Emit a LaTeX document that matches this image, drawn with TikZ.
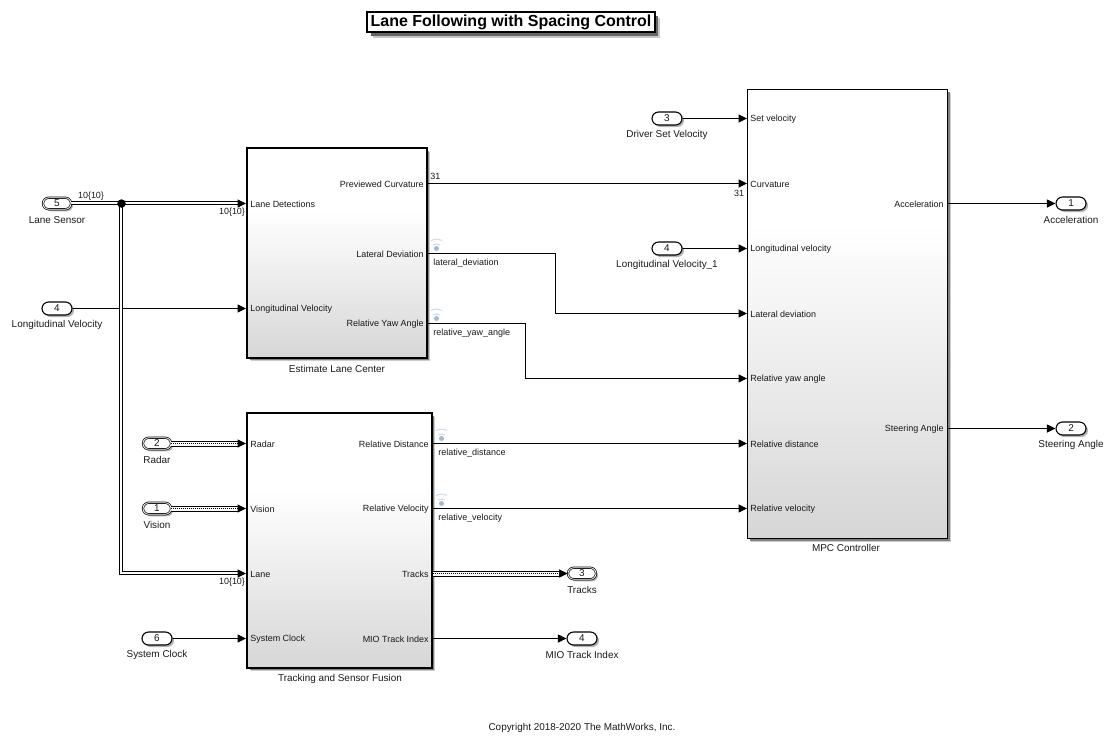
\documentclass[tikz,border=0pt]{standalone}
\usepackage{fontspec}
\setmainfont{Liberation Sans}
\usetikzlibrary{arrows.meta,shapes.misc,shadows}

\pgfdeclareverticalshading{blockfade}{100bp}{color(0bp)=(black!16); color(25bp)=(black!16); color(60bp)=(white); color(100bp)=(white)}

\tikzset{
lbl/.style={font=\fontsize{5.65pt}{7pt}\selectfont, inner sep=0pt, text=black!90, xshift=-0.01cm, yshift=-0.01cm},
tinylbl/.style={lbl, font=\fontsize{5.1pt}{6pt}\selectfont},
simblock/.style={draw, line width=0.04cm, shading=blockfade, drop shadow={shadow xshift=0.07cm, shadow yshift=-0.07cm, fill=black!20, opacity=1}, drop shadow={shadow xshift=0.05cm, shadow yshift=-0.05cm, fill=black!50, opacity=1}},
port/.style={rounded rectangle, draw, line width=0.022cm, fill=white, minimum width=0.6cm, minimum height=0.26cm, inner sep=0pt, lbl, xshift=0cm, yshift=0.01cm, drop shadow={shadow xshift=0.04cm, shadow yshift=-0.04cm, fill=black!30, opacity=1}},
busport/.style={port, double, double distance=0.016cm, line width=0.014cm, minimum width=0.56cm, minimum height=0.23cm},
sig/.style={line width=0.02cm, -{Triangle[length=0.17cm, width=0.16cm]}},
bus/.style={line width=0.02cm, double, double distance=0.04cm},
widebus/.style={line width=0.02cm, double, double distance=0.08cm},
dotwire/.style={line width=0.02cm, black, dash pattern=on 0.02cm off 0.02cm},
tip/.style={line width=0.02cm, -{Triangle[length=0.17cm, width=0.16cm]}},
wifi/.pic={
\fill[blue!45!cyan!35!gray!55] (0,0) circle (0.05cm);
\draw[blue!45!cyan!35!gray!30, line width=0.02cm] (-3.5,-3.5) to[bend left=30] (3.5,-3.5);
\draw[blue!45!cyan!35!gray!30, line width=0.02cm] (-5.5,-8) to[bend left=25] (5.5,-8);
}
}

\begin{document}
\begin{tikzpicture}[x=0.02cm, y=-0.02cm]
\useasboundingbox (-0.5,-0.5) rectangle (1115.5,744.5);

% title
\node[draw, fill=white, line width=0.04cm, minimum width=5.76cm, minimum height=0.4cm, inner sep=0pt,
  font=\fontsize{9.1pt}{11pt}\selectfont\bfseries,
  drop shadow={shadow xshift=0.11cm, shadow yshift=-0.11cm, fill=black!22, opacity=1},
  drop shadow={shadow xshift=0.07cm, shadow yshift=-0.07cm, fill=black!60, opacity=1}]
  (title) at (510.5,21.5) {\raisebox{-0.03cm}{Lane Following with Spacing Control}};

% subsystems
\node[simblock, minimum width=3.6cm, minimum height=4.2cm] (estimate) at (336.5,252.5) {};
\node[simblock, minimum width=3.7cm, minimum height=5.1cm] (tracking) at (339,540) {};
\node[simblock, minimum width=4cm, minimum height=8.98cm, line width=0.02cm] (mpc) at (847,313.5) {};

\node[lbl] (estimatename) at (337,368) {Estimate Lane Center};
\node[lbl] (trackingname) at (340,678) {Tracking and Sensor Fusion};
\node[lbl] (mpcname) at (846,547) {MPC Controller};

% block inputs
\foreach \nm/\x/\y/\txt in {lanedet/250/203/Lane Detections, longvel/250/308/Longitudinal Velocity,
  radarin/250/443/Radar, visionin/250/508/Vision, lanein/250/573/Lane, clockin/250/638/System Clock,
  setvel/750/118/Set velocity, curvin/750/183/Curvature, longin/750/248/Longitudinal velocity,
  latin/750/313/Lateral deviation, yawin/750/378/Relative yaw angle, distin/750/443/Relative distance,
  velin/750/508/Relative velocity}
{
\node[tinylbl, anchor=west] (\nm) at (\x,\y) {\txt};
}

% block outputs
\foreach \nm/\x/\y/\txt in {curvout/424/183/Previewed Curvature, latout/424/253/Lateral Deviation,
  yawout/424/323/Relative Yaw Angle, distout/429/443/Relative Distance, velout/429/508/Relative Velocity,
  tracksout/429/573/Tracks, mioout/429/638/MIO Track Index, accout/944/203/Acceleration,
  steerout/944/428/Steering Angle}
{
\node[tinylbl, anchor=east] (\nm) at (\x,\y) {\txt};
}

% inports and outports
\foreach \nm/\x/\y/\num/\txt in {longport/57/308/4/Longitudinal Velocity, clockport/157/638/6/System Clock,
  mioport/582/638/4/MIO Track Index, setport/667/118/3/Driver Set Velocity,
  longport2/667/248/4/Longitudinal Velocity\_1, accport/1071/203/1/Acceleration, steerport/1071/428/2/Steering Angle}
{
\node[port] (\nm) at (\x,\y) {\num};
\node[lbl] (\nm name) at (\x,\y+16) {\txt};
}
\foreach \nm/\x/\y/\num/\txt in {sensorport/57/203/5/Lane Sensor, radarport/157/443/2/Radar,
  visionport/157/508/1/Vision, tracksport/582/573/3/Tracks}
{
\node[busport] (\nm) at (\x,\y) {\num};
\node[lbl] (\nm name) at (\x,\y+16) {\txt};
}

% plain signals
\coordinate (curvstart) at (estimate.east |- 0,183);
\coordinate (diststart) at (tracking.east |- 0,443);
\coordinate (velstart) at (tracking.east |- 0,508);
\coordinate (latstart) at (estimate.east |- 0,253);
\coordinate (latend) at (mpc.west |- 0,313);
\coordinate (yawstart) at (estimate.east |- 0,323);
\coordinate (yawend) at (mpc.west |- 0,378);
\coordinate (clockstart) at (clockport.east |- 0,638);
\coordinate (longstart) at (longport.east |- 0,308);
\coordinate (miostart) at (tracking.east |- 0,638);
\coordinate (miostop) at (mioport.west |- 0,638);
\draw[sig] (longstart) -- (estimate.west |- longstart);
\draw[sig] (clockstart) -- (tracking.west |- clockstart);
\draw[sig] (miostart) -- (miostop);
\draw[sig] (curvstart) -- (mpc.west |- curvstart);
\draw[sig] (setport.east |- 0,118) -- (mpc.west |- 0,118);
\draw[sig] (longport2.east |- 0,248) -- (mpc.west |- 0,248);
\draw[sig] (diststart) -- (mpc.west |- diststart);
\draw[sig] (velstart) -- (mpc.west |- velstart);
\draw[sig] (mpc.east |- 0,203) -- (accport.west |- 0,203);
\draw[sig] (mpc.east |- 0,428) -- (steerport.west |- 0,428);
\draw[sig] (latstart) -- (555,253) -- (555,313) -- (latend);
\draw[sig] (yawstart) -- (525,323) -- (525,378) -- (yawend);

% lane bus
\coordinate (junction) at (121,203);
\coordinate (lanetipA) at (238,203);
\coordinate (lanetipB) at (238,573);
\draw[bus] (sensorport.east |- 0,202.5) -- (238,202.5);
\draw[bus] (120.5,203) -- (120.5,572.5) -- (238,572.5);
\fill (junction) circle (0.085cm);
\draw[tip] (lanetipA) -- (estimate.west |- lanetipA);
\draw[tip] (lanetipB) -- (tracking.west |- lanetipB);

% dotted buses
\foreach \nm/\y in {radarport/443, visionport/508}
{
\draw[widebus] (\nm.east |- 0,\y) -- (238,\y);
\draw[dotwire] (\nm.east |- 0,\y) -- (238,\y);
\draw[tip] (238,\y) -- (tracking.west |- 0,\y);
}
\coordinate (tracksstart) at (tracking.east |- 0,573);
\coordinate (tracksknee) at (558,573);
\draw[widebus] (tracksstart) -- (tracksknee);
\draw[dotwire] (tracksstart) -- (tracksknee);
\draw[tip] (tracksknee) -- (tracksport.west |- tracksknee);

% signal names and sizes
\foreach \nm/\x/\y/\txt in {latname/433/262/lateral\_deviation, yawname/433/332/relative\_yaw\_angle,
  distname/438/452/relative\_distance, velname/438/517/relative\_velocity, curvsize/430/175/31}
{
\node[tinylbl, anchor=west] (\nm) at (\x,\y) {\txt};
}
\node[tinylbl] (busA) at (91,195) {10\{10\}};
\node[tinylbl] (busB) at (232,211) {10\{10\}};
\node[tinylbl] (busC) at (232,581) {10\{10\}};
\node[tinylbl] (curvsizeB) at (739,192) {31};

% wireless markers
\foreach \x/\y in {436/248, 436/318, 441/438, 441/503}
{
\pic at (\x,\y) {wifi};
}

\node[lbl] (copyright) at (582,727) {Copyright 2018-2020 The MathWorks, Inc.};
\end{tikzpicture}
\end{document}
